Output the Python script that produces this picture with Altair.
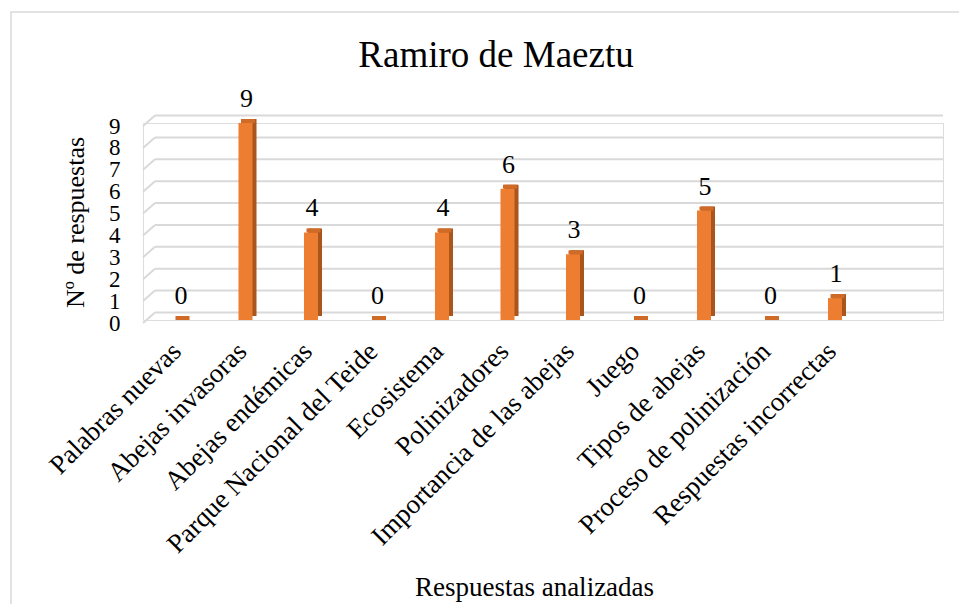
import altair as alt
import pandas as pd

categories = [
    "Palabras nuevas", "Abejas invasoras", "Abejas endémicas",
    "Parque Nacional del Teide", "Ecosistema", "Polinizadores",
    "Importancia de las abejas", "Juego", "Tipos de abejas",
    "Proceso de polinización", "Respuestas incorrectas",
]
values = [0, 9, 4, 0, 4, 6, 3, 0, 5, 0, 1]
y_ticks = list(range(10))
chart_title = "Ramiro de Maeztu"
x_title = "Respuestas analizadas"
y_title = "Nº de respuestas"

FONT = "Liberation Serif"
W, H = 800, 197
GRID = "#D9D9D9"
FRONT = "#ED7D31"
SIDE = "#A9561E"
TOP = "#CF6A27"

df = pd.DataFrame({"cat": categories, "val": values})
ticks = pd.DataFrame({"v": y_ticks})
one = pd.DataFrame({"t": [chart_title]})

yscale = alt.Scale(domain=[0, 9], nice=False, zero=True)
xscale = alt.Scale(domain=categories, range=[4.25, 724.75],
                   paddingInner=0.786, paddingOuter=0.393)

x_axis = alt.Axis(title=x_title, labelAngle=-45, labelAlign="right",
                  labelBaseline="middle", labelPadding=27, labelOffset=-3,
                  labelFont=FONT, labelFontSize=27, labelColor="#000",
                  labelLimit=500, labelOverlap=False,
                  domain=False, ticks=False, grid=False,
                  titleFont=FONT, titleFontSize=27, titleFontWeight="normal",
                  titleColor="#000", titleX=391, titleY=275,
                  titleAnchor="start", titleAlign="center",
                  titleBaseline="alphabetic")
y_axis = alt.Axis(title=y_title, values=y_ticks, tickCount=10,
                  labelFont=FONT, labelFontSize=23,
                  labelColor="#000", labelPadding=23, labelOffset=3,
                  labelOverlap=False,
                  domain=False, ticks=False, grid=False,
                  titleFont=FONT, titleFontSize=26, titleFontWeight="normal",
                  titleColor="#000", titleX=-60, titleY=99, titleAngle=-90,
                  titleAlign="center", titleBaseline="alphabetic")

x_enc = alt.X("cat:N", sort=categories, scale=xscale, axis=x_axis)


def yenc(field):
    return alt.Y(field, scale=yscale, axis=y_axis)


border = alt.Chart(one).mark_rect(fill="transparent", stroke=GRID, strokeWidth=1.5).encode(
    x=alt.value(-132), x2=alt.value(900), y=alt.value(-111), y2=alt.value(700)
)

grid_slant = alt.Chart(ticks).mark_rule(color=GRID, strokeWidth=2, yOffset=3, y2Offset=-7.5).encode(
    x=alt.value(0), x2=alt.value(12), y=yenc("v:Q"), y2="v:Q"
)
grid_back = alt.Chart(ticks).mark_rule(color=GRID, strokeWidth=2, yOffset=-7.5).encode(
    x=alt.value(12), x2=alt.value(W), y=yenc("v:Q")
)

side = alt.Chart(df).mark_bar(color=SIDE, xOffset=4, yOffset=-4).encode(
    x=x_enc, y=yenc("val:Q")
)
top = alt.Chart(df).mark_bar(color=TOP, xOffset=2.5, yOffset=-4, y2Offset=0).encode(
    x=x_enc, y=yenc("val:Q"), y2="val:Q"
)
front = alt.Chart(df).mark_bar(color=FRONT).encode(
    x=x_enc, y=yenc("val:Q")
)
labels = alt.Chart(df).mark_text(font=FONT, fontSize=26, color="#000",
                                 baseline="alphabetic", dy=-16, dx=1).encode(
    x=x_enc, y=yenc("val:Q"), text="val:Q"
)
title = alt.Chart(one).mark_text(font=FONT, fontSize=37, color="#000",
                                 align="center", baseline="alphabetic").encode(
    x=alt.value(353), y=alt.value(-56), text="t:N"
)

chart = alt.layer(border, grid_slant, grid_back, side, top, front, labels, title).properties(
    width=W, height=H,
    autosize=alt.AutoSizeParams(type="none"),
    padding={"left": 135, "top": 115, "right": 16, "bottom": 284},
).configure_view(stroke=None).configure(background="white")

chart.save("out.html", embed_options={"renderer": "svg", "actions": False})
